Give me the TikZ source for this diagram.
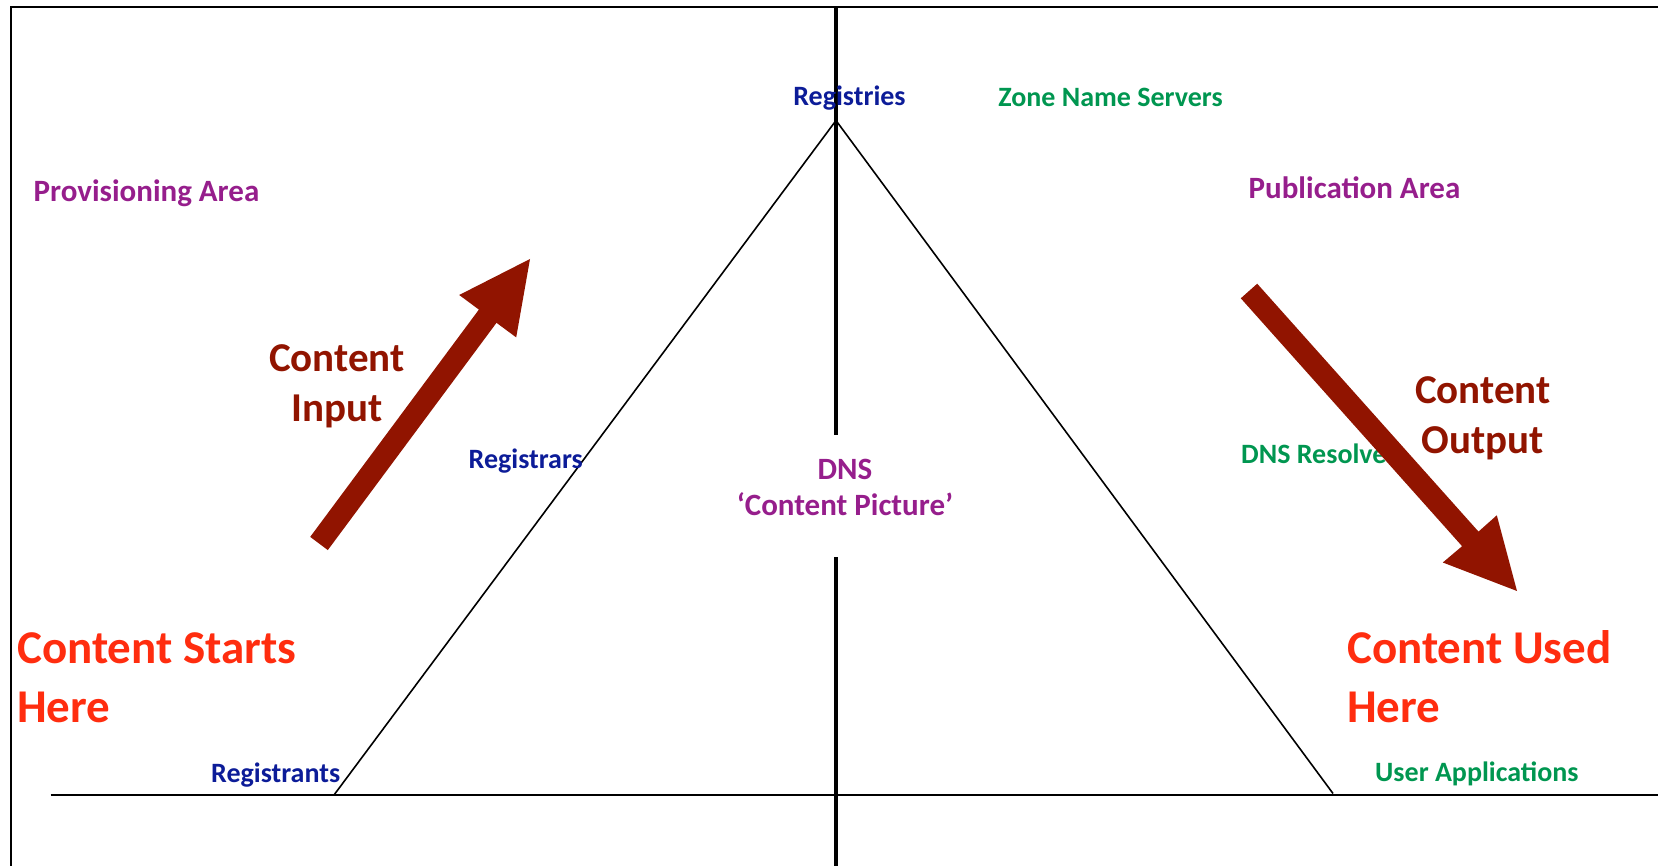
\documentclass[tikz,border=0pt]{standalone}
\usepackage{fontspec}
\setmainfont{Carlito}
\definecolor{regblue}{RGB}{12,28,152}
\definecolor{srvgreen}{RGB}{0,150,80}
\definecolor{areapurple}{RGB}{150,30,140}
\definecolor{flowred}{RGB}{145,20,0}
\definecolor{hotred}{RGB}{255,45,15}
\tikzset{
  lbl/.style={inner sep=0pt,font=\bfseries\fontsize{28}{34}\selectfont},
  area/.style={inner sep=0pt,font=\bfseries\fontsize{31}{37}\selectfont},
  flow/.style={inner sep=0pt,align=center,text=flowred,font=\bfseries\fontsize{41}{50}\selectfont},
  hot/.style={inner sep=0pt,align=left,text=hotred,font=\bfseries\fontsize{47}{59}\selectfont},
  frame/.style={line width=2pt,black},
  axis/.style={line width=4pt,black},
  leg/.style={line width=1.6pt,black}
}
\begin{document}
\begin{tikzpicture}[x=1pt,y=-1pt]
\useasboundingbox (0,0) rectangle (1658,866);
% frame and axes
\coordinate (tl) at (10.5,7.5);
\coordinate (tr) at (1660,7.5);
\coordinate (bl) at (10.5,868);
\draw[frame] (bl) -- (tl) -- (tr);
\coordinate (bs) at (50.5,795);
\coordinate (be) at (1660,795);
\draw[frame] (bs) -- (be);
\coordinate (ctop) at (836,6.5);
\coordinate (cgap1) at (836,435);
\coordinate (cgap2) at (836,557);
\coordinate (cbot) at (836,868);
\draw[axis] (ctop) -- (cgap1);
\draw[axis] (cgap2) -- (cbot);
% triangle
\coordinate (apex) at (836,120.5);
\coordinate (lfoot) at (334,795);
\coordinate (rfoot) at (1333,793.5);
\draw[leg] (lfoot) -- (apex) -- (rfoot);
% labels
\node[lbl,text=regblue,anchor=base] (registries) at (849.5,106) {Registries};
\node[lbl,text=srvgreen,anchor=base] (zones) at (1110.5,107) {Zone Name Servers};
\node[area,text=areapurple,anchor=base west] (prov) at (33.5,201.5) {Provisioning Area};
\node[area,text=areapurple,anchor=base west] (publ) at (1248.5,199) {Publication Area};
\node[lbl,text=regblue,anchor=base west] (registrars) at (468.5,468) {Registrars};
\node[area,text=areapurple,anchor=base] (dns) at (845,479) {DNS};
\node[area,text=areapurple,anchor=base] (picture) at (845,515) {‘Content Picture’};
\node[lbl,text=srvgreen,anchor=base west] (resolv) at (1241,464) {DNS Resolve};
\node[lbl,text=regblue,anchor=base west] (registrants) at (211,782) {Registrants};
\node[lbl,text=srvgreen,anchor=base west] (userapps) at (1375,781) {User Applications};
\node[flow,anchor=base] (in1) at (337,372) {Content};
\node[flow,anchor=base] (in2) at (337,422) {Input};
\node[flow,anchor=base] (out1) at (1483,404) {Content};
\node[flow,anchor=base] (out2) at (1483,454) {Output};
\node[hot,anchor=base west] (start1) at (17,663) {Content Starts};
\node[hot,anchor=base west] (start2) at (17,722) {Here};
\node[hot,anchor=base west] (used1) at (1347,663) {Content Used};
\node[hot,anchor=base west] (used2) at (1347,722) {Here};
% big arrows
\fill[flowred] (310.2,536.9) -- (327.8,550.1) -- (496.5,322.8) -- (516.2,337.4)
  -- (530,259) -- (459.2,295.0) -- (478.9,309.6) -- cycle;
\fill[flowred] (1240.8,298.3) -- (1257.2,283.7) -- (1478.5,531.6) -- (1496.8,515.3)
  -- (1517,591) -- (1442.8,562.5) -- (1462.1,546.2) -- cycle;
\end{tikzpicture}
\end{document}
